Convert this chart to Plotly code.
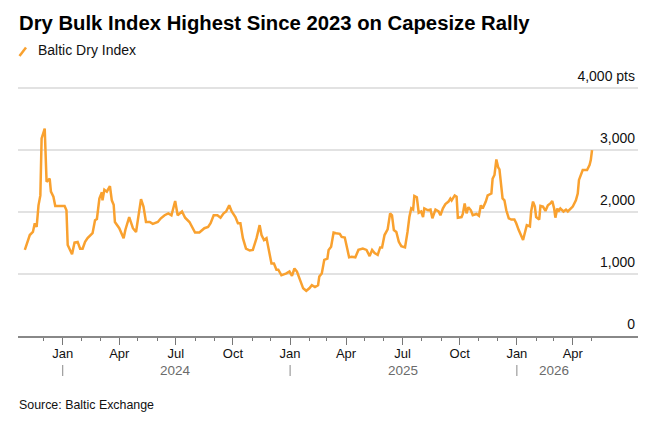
import pandas as pd
import plotly.graph_objects as go

# Baltic Dry Index
dates = [
    "2023-11-01", "2023-11-09", "2023-11-14", "2023-11-17", "2023-11-20", "2023-11-23",
    "2023-11-26", "2023-11-28", "2023-12-03", "2023-12-04", "2023-12-06", "2023-12-11",
    "2023-12-13", "2023-12-17", "2023-12-20", "2024-01-04", "2024-01-07", "2024-01-09",
    "2024-01-12", "2024-01-16", "2024-01-20", "2024-01-25", "2024-01-29", "2024-02-02",
    "2024-02-06", "2024-02-10", "2024-02-18", "2024-02-22", "2024-02-25", "2024-02-29",
    "2024-03-04", "2024-03-05", "2024-03-08", "2024-03-12", "2024-03-17", "2024-03-20",
    "2024-03-23", "2024-03-25", "2024-04-01", "2024-04-08", "2024-04-11", "2024-04-17",
    "2024-04-23", "2024-04-28", "2024-05-06", "2024-05-10", "2024-05-14", "2024-05-20",
    "2024-05-25", "2024-06-02", "2024-06-07", "2024-06-13", "2024-06-19", "2024-06-24",
    "2024-06-30", "2024-07-04", "2024-07-11", "2024-07-16", "2024-07-23", "2024-07-28",
    "2024-08-01", "2024-08-08", "2024-08-12", "2024-08-16", "2024-08-22", "2024-08-26",
    "2024-08-31", "2024-09-06", "2024-09-11", "2024-09-16", "2024-09-20", "2024-09-25",
    "2024-09-29", "2024-10-05", "2024-10-09", "2024-10-13", "2024-10-17", "2024-10-22",
    "2024-10-28", "2024-11-02", "2024-11-08", "2024-11-13", "2024-11-16", "2024-11-20",
    "2024-11-24", "2024-11-29", "2024-12-02", "2024-12-06", "2024-12-10", "2024-12-13",
    "2024-12-18", "2024-12-26", "2024-12-31", "2025-01-04", "2025-01-08", "2025-01-12",
    "2025-01-18", "2025-01-22", "2025-01-27", "2025-02-01", "2025-02-05", "2025-02-10",
    "2025-02-15", "2025-02-17", "2025-02-21", "2025-02-25", "2025-03-02", "2025-03-04",
    "2025-03-08", "2025-03-12", "2025-03-16", "2025-03-22", "2025-03-25", "2025-03-30",
    "2025-04-03", "2025-04-06", "2025-04-10", "2025-04-16", "2025-04-21", "2025-04-28",
    "2025-05-04", "2025-05-09", "2025-05-13", "2025-05-17", "2025-05-22", "2025-05-26",
    "2025-05-29", "2025-06-02", "2025-06-07", "2025-06-11", "2025-06-14", "2025-06-17",
    "2025-06-21", "2025-06-25", "2025-06-29", "2025-07-05", "2025-07-09", "2025-07-12",
    "2025-07-15", "2025-07-18", "2025-07-20", "2025-07-24", "2025-07-27", "2025-07-31",
    "2025-08-03", "2025-08-05", "2025-08-11", "2025-08-15", "2025-08-18", "2025-08-23",
    "2025-08-28", "2025-08-31", "2025-09-04", "2025-09-08", "2025-09-13", "2025-09-16",
    "2025-09-18", "2025-09-23", "2025-09-26", "2025-09-28", "2025-10-04", "2025-10-06",
    "2025-10-09", "2025-10-12", "2025-10-15", "2025-10-19", "2025-10-22", "2025-10-28",
    "2025-11-01", "2025-11-04", "2025-11-07", "2025-11-12", "2025-11-15", "2025-11-21",
    "2025-11-23", "2025-11-26", "2025-11-29", "2025-12-02", "2025-12-04", "2025-12-07",
    "2025-12-09", "2025-12-12", "2025-12-15", "2025-12-19", "2025-12-23", "2025-12-28",
    "2025-12-31", "2026-01-04", "2026-01-08", "2026-01-11", "2026-01-13", "2026-01-17",
    "2026-01-22", "2026-01-24", "2026-01-27", "2026-01-30", "2026-02-01", "2026-02-06",
    "2026-02-08", "2026-02-12", "2026-02-16", "2026-02-20", "2026-02-24", "2026-02-27",
    "2026-03-02", "2026-03-04", "2026-03-07", "2026-03-09", "2026-03-12", "2026-03-17",
    "2026-03-21", "2026-03-24", "2026-03-29", "2026-04-01", "2026-04-06", "2026-04-09",
    "2026-04-11", "2026-04-15", "2026-04-17", "2026-04-24", "2026-04-28", "2026-04-30",
    "2026-05-02",
]
bdi = [
    1390, 1630, 1680, 1820, 1760, 2110,
    2270, 3190, 3350, 3130, 2490, 2540,
    2330, 2250, 2100, 2100, 2030, 1470,
    1410, 1320, 1510, 1520, 1410, 1410,
    1520, 1580, 1660, 1870, 1890, 2220,
    2320, 2190, 2360, 2330, 2420, 2190,
    2120, 1840, 1740, 1580, 1720, 1920,
    1740, 1680, 2210, 2090, 1840, 1840,
    1810, 1840, 1900, 1950, 1980, 1950,
    2180, 1950, 2010, 1910, 1840, 1740,
    1670, 1670, 1710, 1740, 1760, 1820,
    1950, 1950, 1910, 1980, 2010, 2110,
    2010, 1920, 1820, 1820, 1580, 1410,
    1380, 1390, 1580, 1790, 1630, 1550,
    1580, 1310, 1170, 1170, 1070, 1070,
    980, 1010, 1040, 970, 1090, 1040,
    880, 770, 730, 770, 820, 790,
    820, 960, 1010, 1230, 1250, 1390,
    1440, 1670, 1660, 1650, 1600, 1590,
    1410, 1270, 1280, 1270, 1390, 1410,
    1390, 1290, 1390, 1340, 1310, 1430,
    1430, 1630, 1720, 1980, 1950, 1710,
    1680, 1520, 1450, 1430, 1680, 1920,
    2060, 2040, 2260, 2240, 1990, 2010,
    1920, 2060, 2030, 2040, 1900, 2040,
    2010, 1950, 2060, 2130, 2170, 2220,
    2190, 2270, 2250, 1910, 1920, 1970,
    2140, 1980, 2080, 2030, 1950, 1970,
    1940, 2110, 2060, 2170, 2270, 2300,
    2540, 2600, 2850, 2720, 2690, 2440,
    2220, 2190, 2030, 1900, 1880, 1880,
    1820, 1710, 1630, 1550, 1630, 1790,
    1770, 2010, 2170, 2090, 1920, 1880,
    2100, 2090, 2020, 2110, 2140, 2180,
    2060, 1910, 2060, 2010, 2060, 2010,
    2040, 2010, 2060, 2090, 2190, 2300,
    2520, 2630, 2680, 2680, 2760, 2840,
    3000,
]

month_ticks = ["2024-01-01", "2024-04-01", "2024-07-01", "2024-10-01",
               "2025-01-01", "2025-04-01", "2025-07-01", "2025-10-01",
               "2026-01-01", "2026-04-01"]
month_labels = ["Jan", "Apr", "Jul", "Oct", "Jan", "Apr", "Jul", "Oct", "Jan", "Apr"]
year_starts = ["2024-01-01", "2025-01-01", "2026-01-01"]
year_labels = ["2024", "2025", "2026"]
year_label_at = ["2024-07-01", "2025-07-01", "2026-03-02"]
y_ticks = [0, 1000, 2000, 3000, 4000]
y_labels = ["0", "1,000", "2,000", "3,000", "4,000 pts"]

minor_ticks = [d.strftime("%Y-%m-%d") for d in pd.date_range("2023-12-01", "2026-05-01", freq="MS")]

W, H = 659, 427
L, R, T, B = 18, 21, 87, 91
pw = W - L - R
ph = H - T - B

def px(x):
    return (x - L) / pw

def py(y):
    return (H - B - y) / ph

orange = "#F9A12F"
font = "Liberation Sans, Arial, sans-serif"

fig = go.Figure()
fig.add_trace(go.Scatter(x=dates, y=bdi, mode="lines",
                         line=dict(color=orange, width=2.5),
                         showlegend=False, hoverinfo="skip"))

fig.update_layout(
    width=W, height=H,
    margin=dict(l=L, r=R, t=T, b=B, pad=0),
    paper_bgcolor="white", plot_bgcolor="white",
    font=dict(family=font, color="#111111", size=13),
    showlegend=False,
)

fig.update_xaxes(
    type="date",
    range=["2023-10-21", "2026-07-15"],
    tickmode="array", tickvals=month_ticks, ticktext=month_labels,
    ticks="outside", ticklen=7, tickwidth=1.2, tickcolor="#777777",
    ticklabelstandoff=-3,
    tickfont=dict(size=13, color="#111111"),
    minor=dict(tickmode="array", tickvals=minor_ticks, ticks="outside",
               ticklen=3, tickwidth=1.2, tickcolor="#777777"),
    showgrid=False, zeroline=False,
    showline=True, linecolor="#888888", linewidth=2,
)

fig.update_yaxes(
    range=[0, 4020],
    side="right",
    tickmode="array", tickvals=y_ticks, ticktext=y_labels,
    ticklabelposition="inside", ticklabeloverflow="allow",
    ticklabelshift=-12, ticklabelstandoff=0,
    ticks="",
    tickfont=dict(size=14, color="#111111"),
    showgrid=True, gridcolor="#e2e2e2", gridwidth=1.5,
    zeroline=False, showline=False,
)

# title, legend key and source
fig.add_annotation(text="<b>Dry Bulk Index Highest Since 2023 on Capesize Rally</b>",
                   xref="paper", yref="paper", x=px(17), y=py(22.5),
                   xanchor="left", yanchor="middle", showarrow=False,
                   font=dict(size=20.3, color="#000000", family=font))
fig.add_shape(type="line", xref="paper", yref="paper",
              x0=px(19.5), y0=py(56), x1=px(26), y1=py(47.5),
              line=dict(color=orange, width=2.5))
fig.add_annotation(text="Baltic Dry Index", xref="paper", yref="paper",
                   x=px(36), y=py(50.5), xanchor="left", yanchor="middle",
                   showarrow=False, font=dict(size=14, color="#111111"))
fig.add_annotation(text="Source: Baltic Exchange", xref="paper", yref="paper",
                   x=px(17), y=py(405), xanchor="left", yanchor="middle",
                   showarrow=False, font=dict(size=12.4, color="#111111"))

# year row under the month labels
for d in year_starts:
    fig.add_shape(type="line", xref="x", yref="paper", ysizemode="pixel", yanchor=0,
                  x0=d, x1=d, y0=-29, y1=-40,
                  line=dict(color="#888888", width=1))
for lab, d in zip(year_labels, year_label_at):
    fig.add_annotation(text=lab, xref="x", yref="paper", x=d, y=0, yshift=-34,
                       xanchor="center", yanchor="middle", showarrow=False,
                       font=dict(size=13.5, color="#6b6b6b"))

fig.write_html("out.html", config={"displayModeBar": False},
               post_script="document.body.style.margin='0';")
